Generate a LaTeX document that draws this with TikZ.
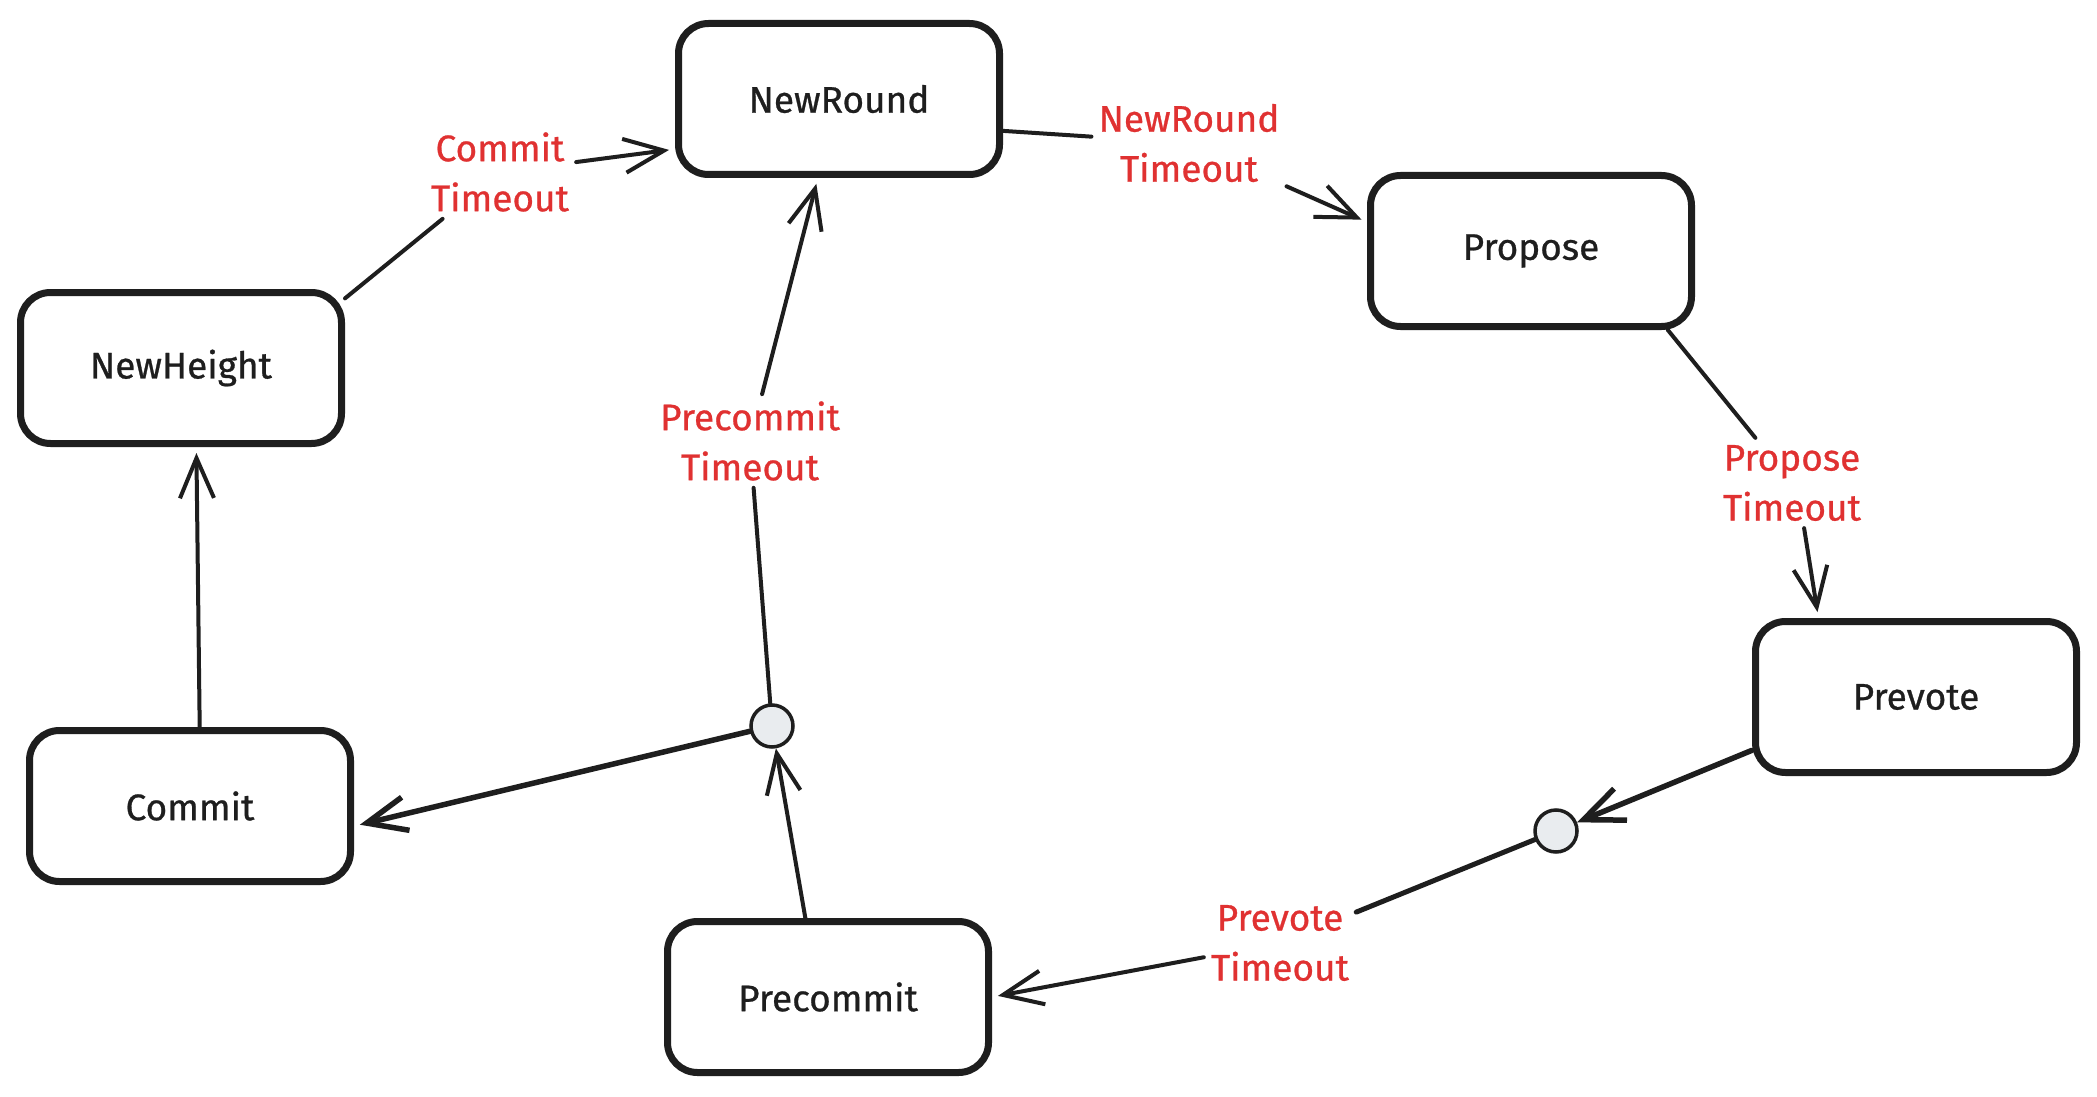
\documentclass[tikz,border=0pt]{standalone}
\usepackage{fontspec}
\setmainfont{Fira Sans}
\newfontfamily\sketchfont{Fira Sans}[FakeBold=0.7]
\usetikzlibrary{arrows.meta}
\definecolor{ink}{HTML}{1E1E1E}
\definecolor{tred}{HTML}{E03131}
\definecolor{dotgray}{HTML}{E9ECEF}
\begin{document}
\begin{tikzpicture}[x=1pt,y=-1pt,
  state/.style={draw=ink, line width=7pt, rounded corners=30pt, minimum width=321pt, minimum height=151pt, text=ink, font=\sketchfont\fontsize{37}{50}\selectfont, fill=white},
  lbl/.style={text=tred, font=\sketchfont\fontsize{37}{50}\selectfont, align=center, inner sep=7pt},
  junction/.style={circle, draw=ink, line width=3.5pt, fill=dotgray, minimum size=42pt, inner sep=0pt},
  conn/.style={draw=ink, line width=4pt, line cap=round, line join=round},
  arr/.style={conn, shorten >=6pt, -{Straight Barb[length=40pt,width=34pt]}},
]
\fill[white] (0,0) rectangle (2097,1097);
\useasboundingbox (0,0) rectangle (2097,1097);

\node[state] (nr) at (839,99) {NewRound};
\node[state] (pr) at (1531,251) {Propose};
\node[state] (pv) at (1916,697) {Prevote};
\node[state] (pc) at (828,997) {Precommit};
\node[state] (cm) at (190,806) {Commit};
\node[state] (nh) at (181,368) {NewHeight};

\node[junction] (j1) at (772,726) {};
\node[junction] (j2) at (1556,831) {};

\node[lbl] (l1) at (500,172) {Commit\\Timeout};
\node[lbl] (l2) at (1189,143) {NewRound\\Timeout};
\node[lbl] (l3) at (1792,483) {Propose\\Timeout};
\node[lbl] (l4) at (1280,943) {Prevote\\Timeout};
\node[lbl] (l5) at (750,441) {Precommit\\Timeout};

\draw[conn] (nh.23) -- (l1);
\draw[arr] (l1) -- (nr.197);
\draw[conn] (nr.-11) -- (l2);
\draw[arr] (l2) -- (pr.170);
\draw[conn] (pr.-30) -- (l3);
\draw[arr] (l3.-75) -- (pv.141);
\draw[arr, line width=5.5pt, shorten >=0pt] (pv.198) -- (j2);
\draw[conn, line width=5pt] (j2) -- (l4);
\draw[arr] (l4) -- (pc.east);
\draw[arr, shorten >=0pt] (pc.106) -- (j1);
\draw[arr, line width=5.5pt] (j1) -- (cm.-7);
\draw[conn] (j1) -- (l5);
\draw[arr] (l5) -- (nr.255);
\draw[arr] (cm.83) -- (nh.-79);
\end{tikzpicture}
\end{document}
